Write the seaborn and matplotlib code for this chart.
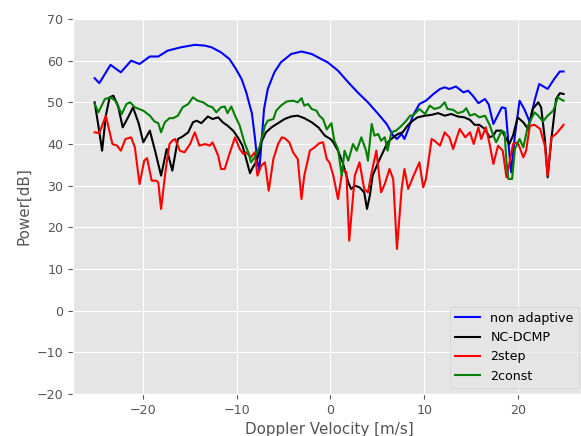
import numpy as np
import pandas as pd
import seaborn as sns
import matplotlib
matplotlib.use('Agg')
import matplotlib.pyplot as plt

# non adaptive (blue)
x_nonadaptive = [-25.2, -24.7, -23.5, -22.4, -21.3, -20.4, -19.3, -18.4, -17.4, -16.0, -14.5, -13.4,
                 -12.7, -11.7, -10.8, -10.1, -9.5, -9.0, -8.6, -8.4, -8.1, -7.8, -7.6, -7.4, -7.1,
                 -6.7, -6.0, -5.3, -4.2, -3.1, -2.0, -1.0, -0.3, 0.8, 1.9, 2.9, 4.0, 5.1, 6.0, 6.7,
                 7.1, 7.6, 7.9, 8.3, 8.8, 9.5, 10.2, 11.0, 11.7, 12.2, 12.7, 13.4, 14.2, 14.7, 15.2,
                 15.8, 16.5, 16.9, 17.4, 18.3, 18.7, 19.0, 19.3, 19.7, 20.2, 20.7, 21.3, 21.8, 22.3,
                 23.2, 23.9, 24.5, 24.9]
y_nonadaptive = [55.8, 54.6, 59.0, 57.2, 60.0, 59.2, 61.0, 61.0, 62.4, 63.2, 63.8, 63.6,
                 63.2, 62.0, 60.4, 58.0, 55.6, 52.4, 49.0, 47.4, 42.0, 35.6, 33.8, 39.6, 48.4,
                 53.2, 57.2, 59.6, 61.6, 62.2, 61.6, 60.4, 59.6, 57.6, 54.8, 52.4, 50.0, 47.2, 44.8, 42.0,
                 41.2, 42.4, 41.2, 43.5, 46.8, 49.6, 50.4, 52.0, 53.2, 53.6, 53.2, 53.8, 52.4, 52.8, 51.6,
                 49.8, 50.8, 49.5, 44.8, 48.8, 48.6, 40.4, 33.2, 42.0, 50.4, 48.4, 45.2, 50.4, 54.4,
                 53.2, 55.6, 57.4, 57.4]

# NC-DCMP (black)
x_ncdcmp = [-25.2, -24.8, -24.4, -24.0, -23.6, -23.2, -22.7, -22.2, -21.6, -21.1, -20.5, -20.0,
            -19.3, -18.7, -18.1, -17.5, -16.9, -16.3, -15.8, -15.2, -14.7, -14.3, -13.8, -13.1,
            -12.6, -12.0, -11.5, -11.0, -10.4, -9.9, -9.4, -8.9, -8.6, -8.3, -8.0, -7.7, -7.4,
            -6.9, -6.3, -5.6, -4.9, -4.2, -3.5, -2.8, -2.0, -1.3, -0.6, 0.0, 0.3, 0.8, 1.3, 1.9,
            2.2, 2.6, 3.1, 3.6, 3.9, 4.2, 4.5, 5.1, 5.6, 6.1, 6.7, 7.2, 7.7, 8.3, 8.8, 9.3, 10.1,
            10.8, 11.5, 12.2, 12.9, 13.6, 14.3, 14.9, 15.4, 15.9, 16.5, 17.0, 17.4, 17.7, 18.3,
            18.8, 19.1, 19.5, 20.0, 20.6, 21.1, 21.6, 22.2, 22.5, 22.9, 23.2, 23.6, 24.1, 24.5, 24.9]
y_ncdcmp = [50.0, 44.4, 38.4, 46.8, 51.2, 51.6, 49.2, 44.0, 46.5, 48.8, 45.0, 40.4,
            43.2, 38.0, 32.4, 38.8, 33.6, 41.2, 41.8, 42.8, 45.2, 45.6, 45.0, 46.6,
            46.0, 46.4, 45.2, 44.4, 43.2, 41.6, 39.6, 35.5, 33.0, 34.4, 35.5, 37.2, 40.4,
            42.8, 44.0, 45.0, 46.0, 46.6, 46.8, 46.2, 45.2, 44.0, 42.0, 41.2, 40.4, 38.4, 35.6, 30.8,
            29.2, 30.0, 29.6, 28.4, 24.4, 27.6, 32.4, 35.6, 38.0, 40.4, 41.6, 42.4, 42.8, 44.6, 45.6, 46.4, 46.8,
            47.0, 47.4, 46.8, 47.2, 46.6, 46.4, 45.8, 44.6, 44.6, 43.6, 41.6, 42.0, 43.2, 43.2,
            41.2, 40.0, 42.0, 46.4, 45.2, 43.6, 48.4, 50.0, 48.8, 41.2, 32.0, 41.2, 50.8, 52.2, 52.0]

# 2step (red)
x_2step = [-25.2, -24.7, -24.0, -23.3, -22.8, -22.4, -21.9, -21.3, -20.9, -20.4, -19.9, -19.6,
           -19.1, -18.6, -18.4, -18.1, -17.6, -17.2, -16.9, -16.6, -16.1, -15.6, -15.0, -14.5,
           -14.0, -13.4, -12.9, -12.6, -12.0, -11.7, -11.3, -10.8, -10.2, -9.7, -9.3, -9.0, -8.5,
           -8.1, -7.8, -7.4, -7.0, -6.6, -6.1, -5.6, -5.2, -4.9, -4.4, -4.0, -3.5, -3.1, -2.8,
           -2.2, -1.7, -1.2, -0.8, -0.4, -0.1, 0.3, 0.8, 1.3, 1.7, 2.0, 2.6, 3.1, 3.6, 4.0, 4.4,
           4.9, 5.4, 5.8, 6.3, 6.7, 7.1, 7.6, 7.9, 8.3, 8.8, 9.5, 9.9, 10.2, 10.8, 11.1, 11.7,
           12.2, 12.7, 13.1, 13.8, 14.4, 14.9, 15.3, 15.8, 16.1, 16.6, 17.0, 17.4, 17.9, 18.4,
           18.8, 19.1, 19.5, 20.0, 20.6, 20.9, 21.3, 21.8, 22.4, 22.9, 23.2, 23.6, 24.1, 24.9]
y_2step = [42.8, 42.6, 46.8, 40.0, 39.6, 38.4, 41.2, 41.6, 39.2, 30.4, 36.0, 36.6,
           31.2, 31.2, 30.8, 24.4, 34.0, 40.0, 40.8, 41.2, 38.4, 38.0, 40.0, 42.8,
           39.6, 40.0, 39.6, 40.4, 37.2, 34.0, 34.0, 37.6, 41.6, 38.8, 37.6, 38.0, 36.8,
           38.0, 32.4, 34.8, 35.6, 28.8, 36.4, 40.0, 41.6, 41.4, 40.4, 38.0, 36.4, 26.8, 32.4,
           38.4, 39.2, 40.2, 40.4, 36.4, 35.5, 32.4, 26.8, 34.0, 33.2, 16.8, 32.4, 35.6, 29.2, 28.4, 33.2,
           38.4, 28.4, 30.4, 34.0, 31.6, 14.8, 29.2, 34.0, 29.2, 32.0, 35.6, 29.6, 31.6, 41.2, 40.8, 39.6,
           42.8, 41.6, 38.8, 43.6, 41.6, 42.8, 40.0, 44.0, 41.2, 44.0, 40.0, 35.2, 39.6, 38.4,
           32.0, 35.2, 40.0, 40.4, 36.8, 38.4, 44.4, 44.6, 43.6, 39.6, 32.4, 41.6, 42.4, 44.6]

# 2const (green)
x_2const = [-25.2, -24.8, -24.1, -23.5, -23.0, -22.3, -21.8, -21.4, -20.9, -20.0, -19.3, -18.8,
            -18.4, -18.1, -17.7, -17.2, -16.8, -16.3, -15.8, -15.2, -14.7, -14.2, -13.6, -13.1,
            -12.6, -12.2, -11.7, -11.3, -11.0, -10.6, -10.2, -9.7, -9.2, -8.7, -8.5, -8.1, -7.6,
            -7.0, -6.7, -6.1, -5.8, -5.3, -4.7, -4.0, -3.5, -3.1, -2.8, -2.4, -2.0, -1.5, -1.2,
            -0.8, -0.4, 0.1, 0.4, 0.8, 1.2, 1.5, 1.9, 2.4, 2.8, 3.3, 3.8, 4.0, 4.4, 4.7, 5.1, 5.4,
            5.8, 6.1, 6.5, 7.0, 7.6, 8.1, 8.5, 8.8, 9.5, 10.1, 10.6, 11.1, 11.7, 12.2, 12.5, 13.1,
            13.6, 14.2, 14.5, 14.9, 15.4, 15.9, 16.5, 17.0, 17.4, 17.7, 18.3, 18.6, 18.8, 19.0,
            19.4, 19.7, 20.2, 20.6, 21.1, 21.8, 22.2, 22.7, 23.2, 23.8, 24.3, 24.7, 24.9]
y_2const = [49.6, 47.6, 50.8, 51.2, 50.4, 47.2, 49.6, 50.0, 48.8, 48.0, 46.8, 45.4,
            45.0, 42.8, 45.2, 46.2, 46.2, 46.8, 48.8, 49.6, 51.2, 50.4, 50.0, 49.2,
            48.8, 47.6, 48.8, 49.0, 47.4, 49.0, 46.8, 44.4, 40.4, 37.5, 35.6, 36.8, 39.2,
            44.4, 45.6, 46.0, 48.0, 49.2, 50.2, 50.4, 50.0, 51.0, 49.2, 49.6, 48.4, 48.0, 46.8,
            46.0, 43.5, 45.0, 40.8, 38.8, 32.4, 38.4, 36.0, 40.0, 38.4, 41.6, 38.4, 36.0, 44.8, 42.0, 42.4, 40.8,
            41.6, 38.4, 42.8, 43.2, 44.4, 45.6, 46.8, 46.8, 48.4, 47.2, 49.2, 48.4, 48.8, 50.0, 48.4, 48.2,
            47.4, 47.8, 48.6, 46.8, 47.2, 46.4, 46.8, 44.6, 42.0, 40.4, 43.2, 42.8, 35.6, 31.6,
            31.6, 38.8, 41.2, 39.2, 44.4, 47.6, 46.8, 45.4, 46.8, 48.0, 51.2, 50.6, 50.4]

series = [
    ('non adaptive', x_nonadaptive, y_nonadaptive, 'b'),
    ('NC-DCMP', x_ncdcmp, y_ncdcmp, 'k'),
    ('2step', x_2step, y_2step, 'r'),
    ('2const', x_2const, y_2const, 'g'),
]

plt.style.use('ggplot')
fig = plt.figure(figsize=(5.81, 4.36), dpi=100)
ax = fig.add_axes([73 / 581, 42 / 436, (585 - 73) / 581, 375 / 436])

for name, xs, ys, color in series:
    sns.lineplot(x=xs, y=ys, ax=ax, color=color, label=name, linewidth=1.5,
                 estimator=None, sort=False)

ax.set_xlim(-27.51, 27.19)
ax.set_ylim(-20, 70)
ax.set_xticks([-20, -10, 0, 10, 20])
ax.set_yticks(range(-20, 71, 10))
ax.tick_params(labelsize=9.1, colors='#555555')
ax.set_xlabel('Doppler Velocity [m/s]', fontsize=10.9, color='#555555')
ax.set_ylabel('Power[dB]', fontsize=10.9, color='#555555')
ax.legend(loc='lower right', fontsize=9.1)

fig.savefig('out.png', dpi=100)
